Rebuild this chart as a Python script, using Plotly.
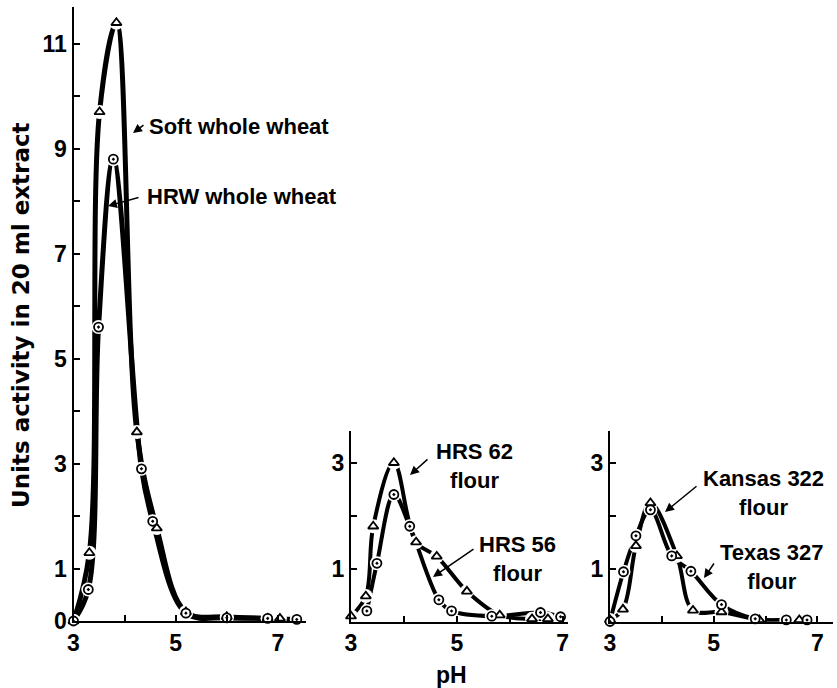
import plotly.graph_objects as go

# ---------------- data ----------------
# Left panel: whole wheat
soft_x = [3.0, 3.31, 3.51, 3.84, 4.24, 4.63, 5.2, 6.0, 6.8, 7.04]
soft_y = [0.0, 1.3, 9.7, 11.4, 3.6, 1.77, 0.17, 0.08, 0.05, 0.05]
hrw_x = [3.0, 3.29, 3.49, 3.78, 4.33, 4.55, 5.2, 6.0, 6.8, 7.37]
hrw_y = [0.0, 0.6, 5.6, 8.8, 2.9, 1.9, 0.15, 0.06, 0.05, 0.03]

# Middle panel: HRS flours
hrs62_x = [3.0, 3.28, 3.42, 3.81, 4.23, 4.62, 5.19, 5.81, 6.42, 6.72]
hrs62_y = [0.1, 0.48, 1.8, 3.0, 1.5, 1.23, 0.57, 0.12, 0.05, 0.05]
hrs56_x = [3.3, 3.49, 3.81, 4.11, 4.66, 4.9, 5.66, 6.58, 6.96]
hrs56_y = [0.2, 1.1, 2.4, 1.8, 0.41, 0.2, 0.1, 0.17, 0.09]

# Right panel: Kansas / Texas flours
kansas_x = [3.0, 3.25, 3.5, 3.78, 4.29, 4.6, 5.15, 5.88, 6.65]
kansas_y = [0.03, 0.23, 1.43, 2.24, 1.24, 0.21, 0.18, 0.03, 0.03]
texas_x = [3.0, 3.26, 3.5, 3.78, 4.19, 4.56, 5.15, 5.8, 6.4, 6.8]
texas_y = [0.0, 0.94, 1.62, 2.11, 1.24, 0.95, 0.32, 0.05, 0.03, 0.03]

left_yticks = [0, 1, 2, 3, 4, 5, 6, 7, 8, 9, 10, 11]
left_ytext = ["0", "1", "", "3", "", "5", "", "7", "", "9", "", "11"]
small_yticks = [1, 2, 3]
small_ytext = ["1", "", "3"]
xticks = [3, 4, 5, 6, 7]
xtext = ["3", "", "5", "", "7"]

W, H = 837, 688
FONT = "Liberation Sans"


def px(v):
    return v / W


def py(v):
    return 1 - v / H


fig = go.Figure()

series = [
    (soft_x, soft_y, "triangle-up", "x", "y", 5),
    (hrw_x, hrw_y, "circle-dot", "x", "y", 5),
    (hrs62_x, hrs62_y, "triangle-up", "x2", "y2", 4),
    (hrs56_x, hrs56_y, "circle-dot", "x2", "y2", 4),
    (kansas_x, kansas_y, "triangle-up", "x3", "y3", 4),
    (texas_x, texas_y, "circle-dot", "x3", "y3", 4),
]

for xs, ys, sym, xa, ya, lw in series:
    fig.add_trace(go.Scatter(x=xs, y=ys, mode="lines", xaxis=xa, yaxis=ya,
                             line=dict(color="black", width=lw, shape="spline", smoothing=1.0),
                             hoverinfo="skip", showlegend=False, cliponaxis=False))
for xs, ys, sym, xa, ya, lw in series:
    fig.add_trace(go.Scatter(x=xs, y=ys, mode="markers", xaxis=xa, yaxis=ya,
                             marker=dict(symbol="circle", size=14, color="white",
                                         line=dict(width=0)),
                             hoverinfo="skip", showlegend=False, cliponaxis=False))
for xs, ys, sym, xa, ya, lw in series:
    fig.add_trace(go.Scatter(x=xs, y=ys, mode="markers", xaxis=xa, yaxis=ya,
                             marker=dict(symbol=sym, size=9, color="white",
                                         line=dict(color="black", width=1.8)),
                             showlegend=False, cliponaxis=False))

axis_common = dict(showline=True, linecolor="black", linewidth=2, ticks="inside",
                   ticklen=6, tickwidth=1.5, tickcolor="black", showgrid=False,
                   zeroline=False, automargin=False,
                   tickfont=dict(family=FONT, size=23, color="black", weight="bold"))

fig.update_layout(
    width=W, height=H, margin=dict(l=0, r=0, t=0, b=0),
    paper_bgcolor="white", plot_bgcolor="white",
    xaxis=dict(domain=[px(73.5), px(306)], range=[3, 7.55], anchor="y",
               tickvals=xticks, ticktext=xtext, **axis_common),
    yaxis=dict(domain=[py(621), py(7)], range=[0, 11.7], anchor="x",
               tickvals=left_yticks, ticktext=left_ytext, **axis_common),
    xaxis2=dict(domain=[px(351), px(568)], range=[3, 7.1], anchor="y2",
                tickvals=xticks, ticktext=xtext, **axis_common),
    yaxis2=dict(domain=[py(621.5), py(431)], range=[0, 3.6], anchor="x2",
                tickvals=small_yticks, ticktext=small_ytext, **axis_common),
    xaxis3=dict(domain=[px(610), px(833)], range=[3, 7.3], anchor="y3",
                tickvals=xticks, ticktext=xtext, **axis_common),
    yaxis3=dict(domain=[py(621.5), py(431)], range=[0, 3.6], anchor="x3",
                tickvals=small_yticks, ticktext=small_ytext, **axis_common),
)

lab_font = dict(family=FONT, size=22, color="black")

labels = [
    # text, x_px, y_px, xanchor, arrow tip (px), arrow tail (px)
    ("<b>Soft whole wheat</b>", 147, 126, "left", (133, 133), (145, 124)),
    ("<b>HRW whole wheat</b>", 145, 197, "left", (108, 206), (140, 197)),
    ("<b>HRS 62<br>flour</b>", 475, 466, "center", (410, 475), (429, 458)),
    ("<b>HRS 56<br>flour</b>", 517, 559, "center", (433, 577), (475, 548)),
    ("<b>Kansas 322<br>flour</b>", 763, 493, "center", (665, 512), (698, 485)),
    ("<b>Texas 327<br>flour</b>", 772, 567, "center", (704, 578), (715, 562)),
]
for text, x, y, xa, tip, tail in labels:
    fig.add_annotation(text=text, x=px(x), y=py(y), xref="paper", yref="paper",
                       xanchor=xa, yanchor="middle", showarrow=False,
                       font=lab_font, align="center")
    fig.add_annotation(x=px(tip[0]), y=py(tip[1]), ax=tail[0] - tip[0], ay=tail[1] - tip[1],
                       xref="paper", yref="paper", axref="pixel", ayref="pixel",
                       text="", showarrow=True, arrowhead=2, arrowsize=1.2,
                       arrowwidth=1.5, arrowcolor="black")

fig.add_annotation(text="<b>Units activity in 20 ml extract</b>", x=px(21), y=py(315),
                   xref="paper", yref="paper", textangle=-90, showarrow=False,
                   xanchor="center", yanchor="middle",
                   font=dict(family="DejaVu Sans", size=23, color="black"))
fig.add_annotation(text="<b>pH</b>", x=px(451), y=py(675), xref="paper", yref="paper",
                   xanchor="center", yanchor="middle", showarrow=False,
                   font=dict(family=FONT, size=23, color="black"))

fig.write_html("out.html")
